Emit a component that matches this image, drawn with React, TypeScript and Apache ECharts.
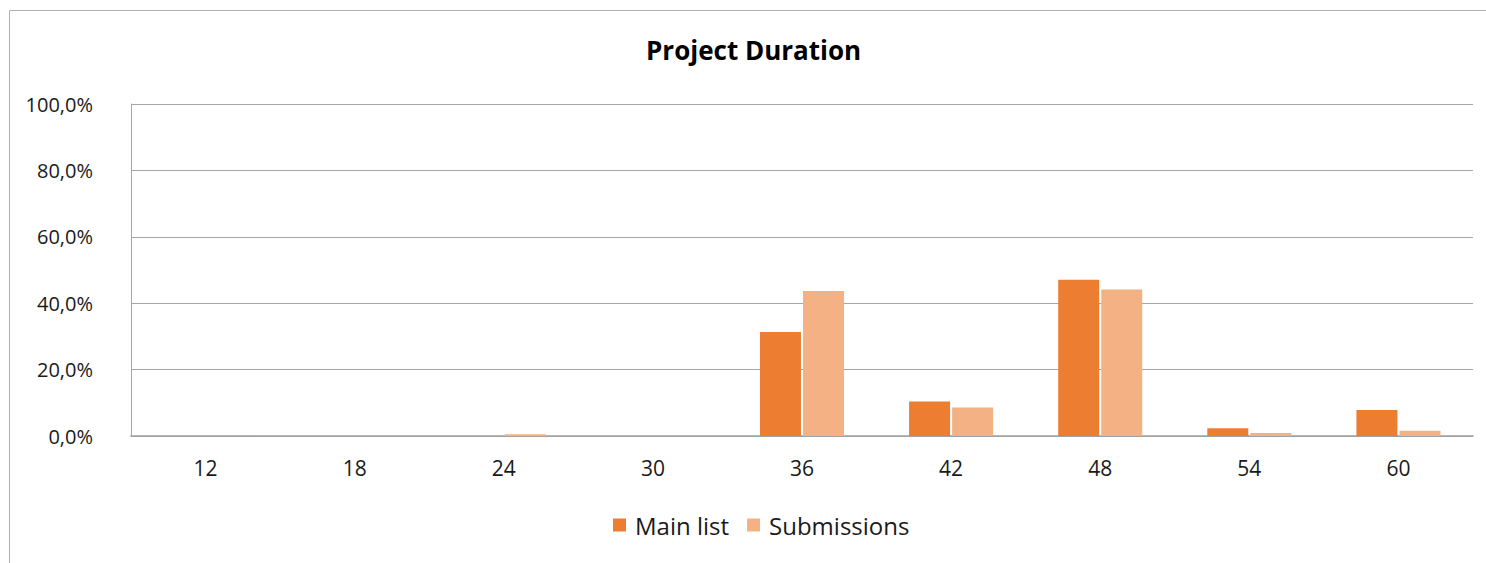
import React, { useEffect, useRef } from "react";
import * as echarts from "echarts";

const categories = ["12", "18", "24", "30", "36", "42", "48", "54", "60"];
const mainList = [0, 0, 0, 0, 31.3, 10.4, 47.1, 2.3, 7.8];
const submissions = [0, 0, 0.5, 0, 43.7, 8.6, 44.1, 0.9, 1.6];
const seriesNames = ["Main list", "Submissions"];
const titleText = "Project Duration";

const FONT = "'Open Sans', 'Noto Sans', sans-serif";

export default function App() {
  const ref = useRef<HTMLDivElement>(null);
  useEffect(() => {
    if (!ref.current) return;
    const chart = echarts.init(ref.current, null, { renderer: "svg" });
    chart.setOption({
      animation: false,
      backgroundColor: "#ffffff",
      title: {
        text: titleText,
        left: 646,
        top: 37,
        padding: 0,
        textStyle: { fontFamily: FONT, fontSize: 26, fontWeight: "bold", color: "#000" },
      },
      graphic: [
        {
          type: "rect",
          shape: { x: 9.5, y: 10.5, width: 1600, height: 700 },
          style: { fill: "none", stroke: "#b0b0b0", lineWidth: 1 },
          silent: true,
          z: -1,
        },
      ],
      legend: {
        data: seriesNames,
        left: 613,
        top: 513,
        padding: 0,
        itemWidth: 13,
        itemHeight: 13,
        itemGap: 18,
        icon: "rect",
        textStyle: { fontFamily: FONT, fontSize: 24, color: "#1a1a1a", padding: [0, 0, 0, 4] },
      },
      grid: { left: 131, right: 13, top: 104, bottom: 127, containLabel: false },
      xAxis: {
        type: "category",
        data: categories,
        axisTick: { show: false },
        axisLine: { lineStyle: { color: "#a0a0a0", width: 1.5 } },
        axisLabel: { fontFamily: FONT, fontSize: 21, color: "#1a1a1a", margin: 21 },
      },
      yAxis: {
        type: "value",
        min: 0,
        max: 100,
        interval: 20,
        axisLine: { show: true, lineStyle: { color: "#a6a6a6" } },
        axisTick: { show: false },
        splitLine: { lineStyle: { color: "#a6a6a6", width: 1 } },
        axisLabel: {
          fontFamily: FONT,
          fontSize: 20,
          color: "#1a1a1a",
          margin: 38,
          formatter: (v: number) => v.toFixed(1).replace(".", ",") + "%",
        },
      },
      series: [
        {
          name: seriesNames[0],
          type: "bar",
          data: mainList,
          barWidth: 41,
          barGap: "5%",
          itemStyle: { color: "#ED7D31" },
        },
        {
          name: seriesNames[1],
          type: "bar",
          data: submissions,
          barWidth: 41,
          itemStyle: { color: "#F4B183" },
        },
      ],
    });
    return () => chart.dispose();
  }, []);
  return (
    <div
      ref={ref}
      style={{ position: "fixed", left: 0, top: 0, width: 1486, height: 563 }}
    />
  );
}
